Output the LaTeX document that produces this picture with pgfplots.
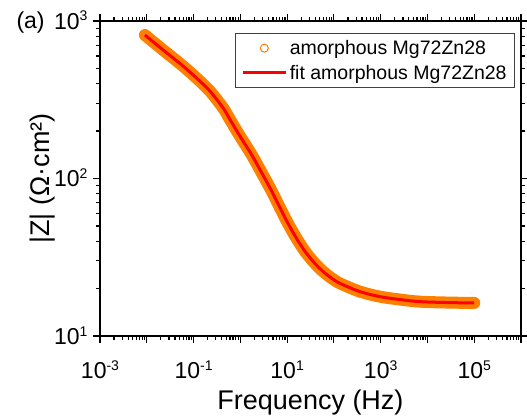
\documentclass[border=0pt]{standalone}
\usepackage{fontspec}
\setmainfont{Liberation Sans}
\usepackage{pgfplots}
\usepackage{pgfplotstable}
\pgfplotsset{compat=1.18}
\definecolor{dorange}{RGB}{255,128,0}
\definecolor{fitred}{RGB}{255,0,0}
\newcommand\tl[1]{10\raisebox{8.5bp}{\fontsize{14bp}{14bp}\selectfont #1}}

\pgfplotstableread{
f Z
0.00912 814.7
0.01778 691.8
0.03162 602.6
0.05623 524.8
0.1 451.9
0.1585 398.1
0.2239 358.9
0.3162 316.2
0.4467 275.4
0.5998 237.1
1.0 184.1
1.742 141.6
3.162 103.0
4.656 83.4
7.015 65.3
10.0 53.1
14.13 44.2
18.79 38.5
25.12 33.9
35.48 29.9
50.2 26.8
70.79 24.5
89.1 23.3
134.3 21.6
359.7 19.14
961.6 17.78
2512 17.06
6918 16.52
31623 16.29
100000 16.22
}\datatab

\pgfplotstableread{
f Z
0.00912 814.7
0.01778 691.8
0.03162 602.6
0.05623 524.8
0.1 451.9
0.1585 398.1
0.2239 358.9
0.3162 316.2
0.4467 275.4
0.5998 237.1
1.0 184.1
1.742 141.6
3.162 103.0
4.656 83.4
7.015 65.3
10.0 53.1
14.13 44.2
18.79 38.5
25.12 33.9
35.48 29.9
50.2 26.8
70.79 24.5
89.1 23.3
134.3 21.6
359.7 19.14
961.6 17.78
2512 17.06
6918 16.52
31623 16.29
100000 16.22
}\fittab

\begin{document}
\begin{tikzpicture}
\begin{loglogaxis}[
  at={(0bp,0bp)}, anchor=south west,
  width=421bp, height=315bp, scale only axis,
  xmin=1e-3, xmax=1e6, ymin=10, ymax=1000,
  xtick={1e-3,1e-2,1e-1,1e0,1e1,1e2,1e3,1e4,1e5,1e6},
  xticklabels={\tl{-3},,\tl{-1},,\tl{1},,\tl{3},,\tl{5},},
  ytick={10,100,1000},
  yticklabels={\tl{1},\tl{2},\tl{3}},
  tick align=outside,
  major tick length=7bp, minor tick length=4bp,
  every tick/.style={black, line width=1.2bp},
  axis line style={black, line width=1.8bp},
  ticklabel style={font=\fontsize{23bp}{23bp}\selectfont},
  xticklabel style={anchor=base, yshift=-36bp},
  yticklabel style={anchor=base east, yshift=-8.5bp, xshift=-2bp},
  xlabel={Frequency (Hz)},
  ylabel={|Z| (Ω·cm²)},
  label style={font=\fontsize{27bp}{27bp}\selectfont},
  xlabel style={at={(axis description cs:0.5,0)}, anchor=base, yshift=-73bp},
  ylabel style={at={(axis description cs:0,0.5)}, anchor=base, yshift=50bp},
  legend style={at={(axis description cs:0.9857,0.962)}, anchor=north east,
    draw=black!75, line width=0.8bp, font=\fontsize{19.5bp}{22bp}\selectfont,
    inner xsep=6bp, inner ysep=5bp, row sep=5bp,
    cells={anchor=west}},
  legend cell align=left,
]
\addplot[draw=dorange, line width=12bp, line cap=round, line join=round, smooth, tension=0.5,
  legend image code/.code={\draw[dorange, line width=1bp] (21bp,0bp) circle (4bp);}]
  table[x=f, y=Z] {\datatab};
\addlegendentry{amorphous Mg72Zn28}
\addplot[draw=fitred, line width=3bp, smooth, tension=0.5,
  legend image code/.code={\draw[fitred, line width=3bp] (0bp,0bp) -- (43bp,0bp);}]
  table[x=f, y=Z] {\fittab};
\addlegendentry{fit amorphous Mg72Zn28}
\end{loglogaxis}
\node[anchor=base west, font=\fontsize{23bp}{23bp}\selectfont] at (-87bp,307bp) {(a)};
\pgfresetboundingbox
\path[use as bounding box] (-100bp,-83bp) rectangle (427bp,336bp);
\end{tikzpicture}
\end{document}
